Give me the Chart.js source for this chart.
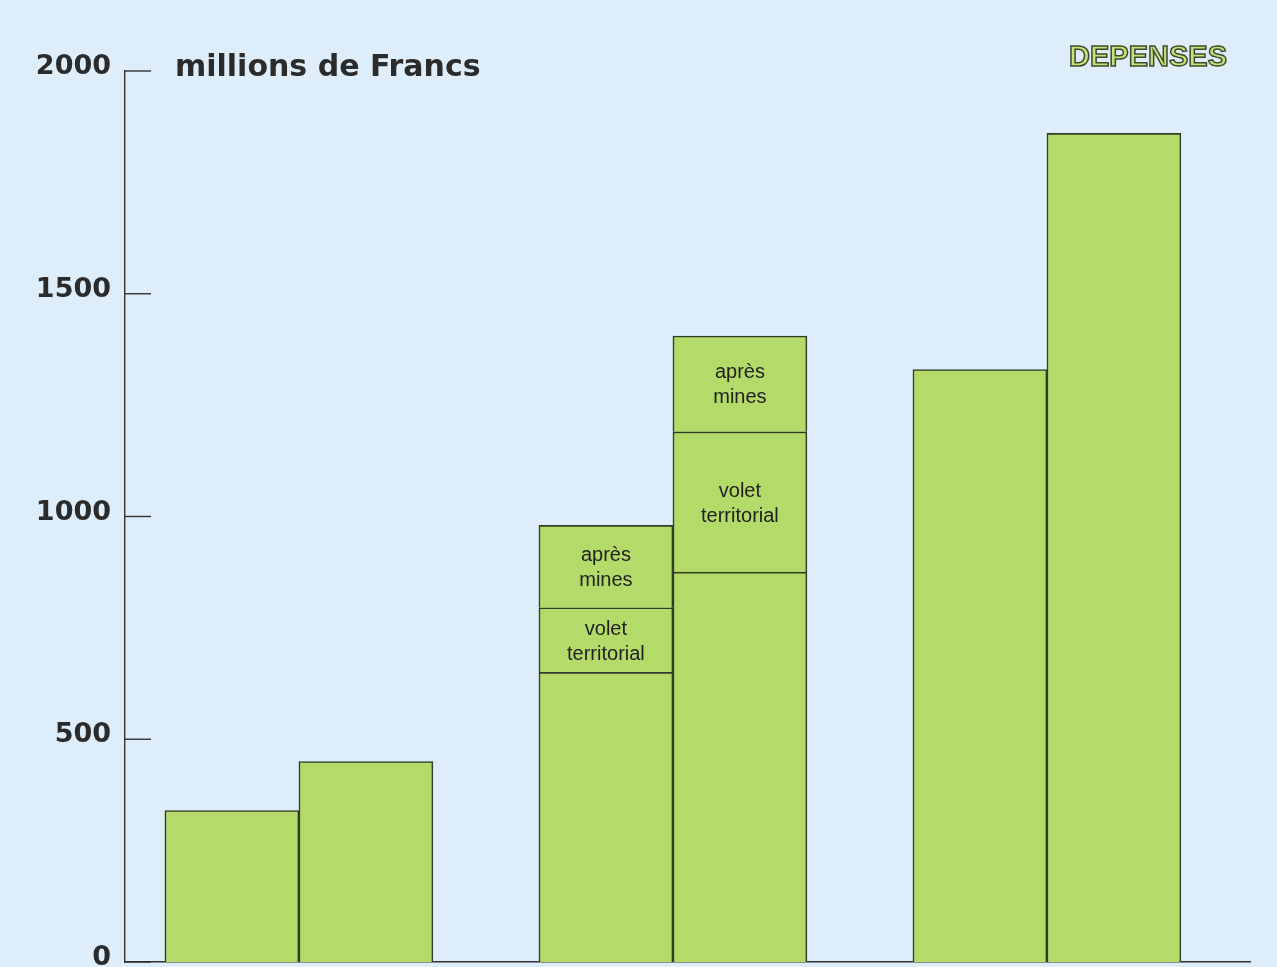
<!DOCTYPE html>
<html lang="fr">
<head>
<meta charset="utf-8">
<title>Dépenses</title>
<script src="https://cdn.jsdelivr.net/npm/chart.js@4.4.1/dist/chart.umd.min.js"></script>
<style>
    html, body { margin: 0; padding: 0; background: #ddedf9; overflow: hidden; }
    #boite { position: relative; width: 1277px; height: 967px; }
</style>
</head>
<body>
<div id="boite"><canvas id="graficoDepenses"></canvas></div>
<script>
// positions des groupes sur l'axe x (3 paires de barres)
const groupes = [0, 1, 2];

// barres de gauche
const baseGauche = [340, 650, 1330];
const voletGauche = [null, 145, null];
const apresGauche = [null, 185, null];

// barres de droite
const baseDroite = [450, 875, 1860];
const voletDroite = [null, 315, null];
const apresDroite = [null, 215, null];

const graduations = [0, 500, 1000, 1500, 2000];
const titreAxe = 'millions de Francs';
const titreGraphique = 'DEPENSES';
const texteApres = ['après', 'mines'];
const texteVolet = ['volet', 'territorial'];

const vert = '#b4db69';
const trait = '#323c28';

function points(valeurs) {
    return valeurs.map((v, i) => ({ x: groupes[i], y: v }));
}

function serie(valeurs, pile, texte) {
    return {
        data: points(valeurs),
        stack: pile,
        backgroundColor: vert,
        borderColor: trait,
        borderWidth: 1.6,
        barThickness: 134,
        texteSegment: texte
    };
}

// petits traits de graduation vers l'intérieur + textes
const decor = {
    id: 'decor',
    afterDraw(chart) {
        const ctx = chart.ctx;
        const zone = chart.chartArea;
        const y = chart.scales.y;
        ctx.save();
        ctx.strokeStyle = '#333';
        ctx.lineWidth = 1.4;
        y.ticks.forEach(t => {
            const py = y.getPixelForValue(t.value);
            ctx.beginPath();
            ctx.moveTo(zone.left, py);
            ctx.lineTo(zone.left + 26, py);
            ctx.stroke();
        });

        ctx.fillStyle = '#2b2b2b';
        ctx.font = 'bold 30px "DejaVu Sans"';
        ctx.textBaseline = 'middle';
        ctx.textAlign = 'left';
        ctx.fillText(titreAxe, zone.left + 50, zone.top - 3);

        ctx.font = 'bold 29px "Liberation Sans"';
        ctx.textAlign = 'right';
        ctx.fillStyle = '#c6e07c';
        ctx.strokeStyle = '#3d4a2c';
        ctx.lineWidth = 1.5;
        ctx.fillText(titreGraphique, zone.right - 23, zone.top - 13);
        ctx.strokeText(titreGraphique, zone.right - 23, zone.top - 13);

        // textes dans les segments empilés
        ctx.font = '20px "Liberation Sans"';
        ctx.textAlign = 'center';
        ctx.fillStyle = '#222';
        chart.data.datasets.forEach((ds, i) => {
            if (!ds.texteSegment) return;
            chart.getDatasetMeta(i).data.forEach((barre, j) => {
                if (ds.data[j].y == null) return;
                const milieu = (barre.y + barre.base) / 2;
                ctx.fillText(ds.texteSegment[0], barre.x, milieu - 11);
                ctx.fillText(ds.texteSegment[1], barre.x, milieu + 14);
            });
        });
        ctx.restore();
    }
};

const graficoDepenses = new Chart(document.getElementById('graficoDepenses'), {
    type: 'bar',
    data: {
        datasets: [
            serie(baseGauche, 'gauche'),
            serie(voletGauche, 'gauche', texteVolet),
            serie(apresGauche, 'gauche', texteApres),
            serie(baseDroite, 'droite'),
            serie(voletDroite, 'droite', texteVolet),
            serie(apresDroite, 'droite', texteApres)
        ]
    },
    options: {
        responsive: true,
        maintainAspectRatio: false,
        animation: false,
        layout: { padding: { top: 71, right: 27, bottom: 5, left: 0 } },
        plugins: {
            legend: { display: false },
            tooltip: { enabled: false }
        },
        scales: {
            x: {
                type: 'linear',
                offset: false,
                min: -0.465,
                max: 2.543,
                ticks: { display: false },
                grid: { display: false, drawTicks: false, offset: false },
                border: { display: true, color: '#333', width: 1.4 }
            },
            y: {
                stacked: true,
                min: 0,
                max: 2000,
                afterBuildTicks: (axe) => {
                    axe.ticks = graduations.map(v => ({ value: v }));
                },
                afterFit: (axe) => {
                    axe.width = 125;
                    axe.paddingTop = 0;
                    axe.paddingBottom = 0;
                },
                ticks: {
                    padding: 14,
                    labelOffset: -4,
                    color: '#2b2b2b',
                    font: { family: 'DejaVu Sans', size: 27, weight: 'bold' },
                    callback: (v) => String(v)
                },
                grid: { display: false, drawTicks: false },
                border: { display: true, color: '#333', width: 1.4 }
            }
        }
    },
    plugins: [decor]
});
</script>
</body>
</html>
